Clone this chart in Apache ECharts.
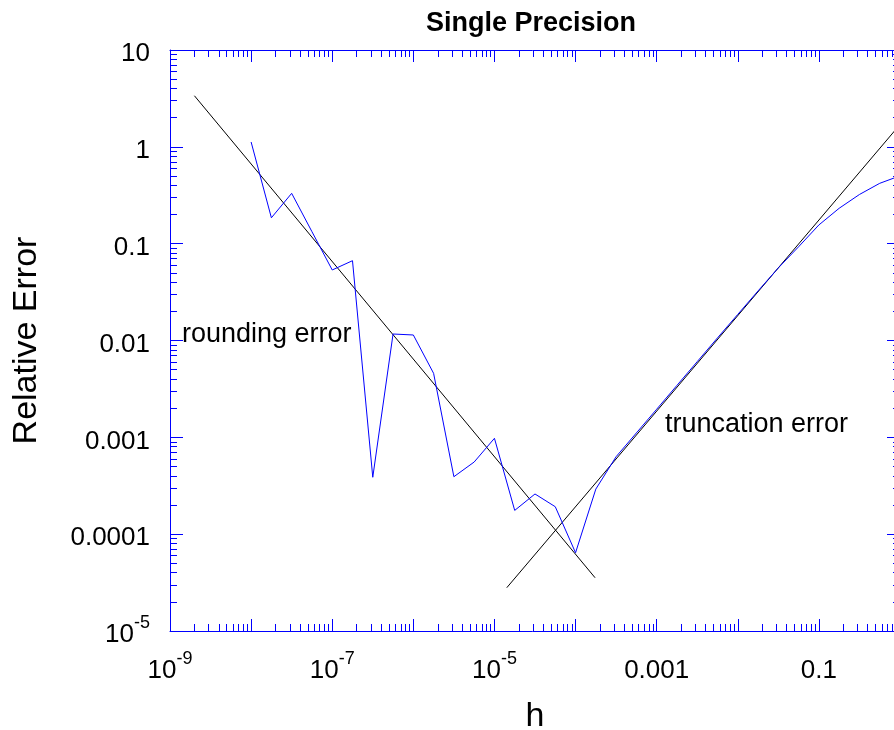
<!DOCTYPE html>
<html>
<head>
<meta charset="utf-8">
<script src="https://cdn.jsdelivr.net/npm/echarts@6/dist/echarts.min.js"></script>
<style>
html,body{margin:0;padding:0;background:#fff;}
#chart{width:894px;height:730px;}
</style>
</head>
<body>
<div id="chart"></div>
<script>
// ---- data ----
const stepH = [1e-8, 1.778e-8, 3.162e-8, 5.623e-8, 1e-7, 1.778e-7, 3.162e-7, 5.623e-7,
  1e-6, 1.778e-6, 3.162e-6, 5.623e-6, 1e-5, 1.778e-5, 3.162e-5, 5.623e-5,
  1e-4, 1.778e-4, 3.162e-4, 5.623e-4, 1e-3, 1.778e-3, 3.162e-3, 5.623e-3,
  0.01, 0.01778, 0.03162, 0.05623, 0.1, 0.1778, 0.3162, 0.5623, 1];
const relError = [1.122, 0.185, 0.331, 0.133, 0.0535, 0.0667, 0.000387, 0.01167,
  0.0114, 0.00458, 0.000392, 0.000556, 0.000977, 0.000176, 0.00026, 0.000192,
  6.43e-5, 0.000292, 0.000631, 0.00111, 0.00195, 0.00344, 0.00605, 0.01064,
  0.0186, 0.0325, 0.0562, 0.0929, 0.156, 0.232, 0.322, 0.420, 0.502];
const roundingH = [2e-9, 1.74e-4];
const roundingE = [3.37, 3.55e-5];
const truncH = [1.42e-5, 1];
const truncE = [2.80e-5, 1.70];

// axis ranges (log10) and tick labels
const xDecades = [-9, -8, -7, -6, -5, -4, -3, -2, -1, 0];
const yDecades = [-5, -4, -3, -2, -1, 0, 1];
const xLabelVals = [-9, -7, -5, -3, -1];
const xLabelText = ['{n|10}{s|-9}', '{n|10}{s|-7}', '{n|10}{s|-5}', '{n|0.001}', '{n|0.1}'];
const yLabelVals = [1, 0, -1, -2, -3, -4, -5];
const yLabelText = ['{n|10}', '{n|1}', '{n|0.1}', '{n|0.01}', '{n|0.001}', '{n|0.0001}', '{n|10}{s|-5}'];

function minorTicks(decades) {
  const out = [];
  for (let i = 0; i < decades.length - 1; i++) {
    for (let k = 2; k <= 9; k++) out.push(decades[i] + Math.log10(k));
  }
  return out;
}
const xMinor = minorTicks(xDecades);
const yMinor = minorTicks(yDecades);

const L = Math.log10;
const toPts = (xs, ys) => xs.map((v, i) => [L(v), L(ys[i])]);

const FONT = 'Liberation Sans, Arial, sans-serif';
const BLUE = '#0000ff';
const rich = {
  n: {fontSize: 26, fontFamily: FONT, color: '#000', lineHeight: 34, verticalAlign: 'bottom'},
  s: {fontSize: 18, fontFamily: FONT, color: '#000', lineHeight: 18, verticalAlign: 'top'}
};

function xAx(pos, vals, len, showLine, withLabels) {
  const a = {
    type: 'value', position: pos, min: xDecades[0], max: xDecades[xDecades.length - 1],
    gridIndex: 0,
    axisLine: {show: showLine, onZero: false, lineStyle: {color: BLUE, width: 1}},
    axisTick: {show: true, inside: true, length: len, customValues: vals, lineStyle: {color: BLUE, width: 1}},
    splitLine: {show: false},
    axisLabel: {show: false}
  };
  if (withLabels) {
    a.axisLabel = {
      show: true, customValues: xLabelVals, margin: 19,
      formatter: v => xLabelText[xLabelVals.indexOf(Math.round(v))], rich: rich
    };
    a.name = 'h';
    a.nameLocation = 'middle';
    a.nameGap = 69;
    a.nameTextStyle = {fontSize: 34, fontFamily: FONT, color: '#000'};
  }
  return a;
}
function yAx(pos, vals, len, showLine, withLabels) {
  const a = {
    type: 'value', position: pos, min: yDecades[0], max: yDecades[yDecades.length - 1],
    gridIndex: 0,
    axisLine: {show: showLine, onZero: false, lineStyle: {color: BLUE, width: 1}},
    axisTick: {show: true, inside: true, length: len, customValues: vals, lineStyle: {color: BLUE, width: 1}},
    splitLine: {show: false},
    axisLabel: {show: false}
  };
  if (withLabels) {
    a.axisLabel = {
      show: true, customValues: yLabelVals, margin: 20,
      formatter: v => yLabelText[yLabelVals.indexOf(Math.round(v))], rich: rich
    };
    a.name = 'Relative Error';
    a.nameLocation = 'middle';
    a.nameGap = 126;
    a.nameTextStyle = {fontSize: 34, fontFamily: FONT, color: '#000'};
  }
  return a;
}

const chart = echarts.init(document.getElementById('chart'), null, {renderer: 'canvas'});
chart.setOption({
  animation: false,
  backgroundColor: '#fff',
  title: {
    text: 'Single Precision', left: 526, top: 5, textAlign: 'center',
    textStyle: {fontSize: 27, fontWeight: 'bold', fontFamily: FONT, color: '#000'}
  },
  grid: {left: 170, top: 50, width: 730, height: 581, containLabel: false, outerBoundsMode: 'none'},
  xAxis: [
    xAx('bottom', xDecades, 12, true, true),
    xAx('bottom', xMinor, 7, false, false),
    xAx('top', xDecades, 12, true, false),
    xAx('top', xMinor, 7, false, false)
  ],
  yAxis: [
    yAx('left', yDecades, 13, true, true),
    yAx('left', yMinor, 7, false, false),
    yAx('right', yDecades, 13, true, false),
    yAx('right', yMinor, 7, false, false)
  ],
  graphic: [
    {type: 'text', left: 182, top: 321, style: {text: 'rounding error', fontSize: 27, fontFamily: FONT, fill: '#000'}},
    {type: 'text', left: 665, top: 411, style: {text: 'truncation error', fontSize: 27, fontFamily: FONT, fill: '#000'}}
  ],
  series: [
    {type: 'line', data: toPts(roundingH, roundingE), symbol: 'none', lineStyle: {color: '#000', width: 1}, xAxisIndex: 0, yAxisIndex: 0, z: 2},
    {type: 'line', data: toPts(truncH, truncE), symbol: 'none', lineStyle: {color: '#000', width: 1}, xAxisIndex: 0, yAxisIndex: 0, z: 2},
    {type: 'line', data: toPts(stepH, relError), symbol: 'none', lineStyle: {color: BLUE, width: 1}, xAxisIndex: 0, yAxisIndex: 0, z: 3}
  ]
});
</script>
</body>
</html>
